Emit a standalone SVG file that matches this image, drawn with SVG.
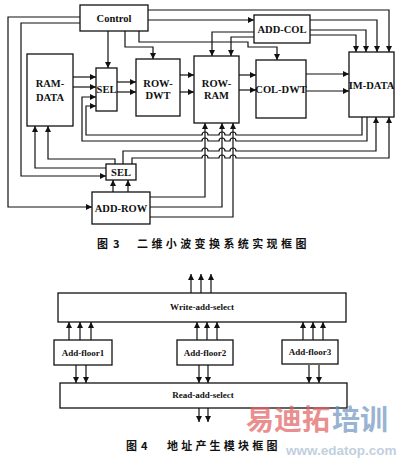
<svg xmlns="http://www.w3.org/2000/svg" width="400" height="458" viewBox="0 0 400 458">
<defs>
<marker id="ah" viewBox="0 0 10 10" refX="10" refY="5" markerWidth="6" markerHeight="6" markerUnits="userSpaceOnUse" orient="auto">
<path d="M0,0 L10,5 L0,10 z" fill="#111"/>
</marker>
<style>
.box{fill:#fff;stroke:#111;stroke-width:1.3}
.ln{fill:none;stroke:#111;stroke-width:1.2}
.ar{fill:none;stroke:#111;stroke-width:1.2;marker-end:url(#ah)}
.lb{font-family:"Liberation Serif","Times New Roman",serif;font-weight:bold;font-size:10.5px;fill:#111;text-anchor:middle}
.lb2{font-family:"Liberation Serif","Times New Roman",serif;font-weight:bold;font-size:9px;fill:#111;text-anchor:middle}
.cap{font-family:"Noto Sans CJK SC","Liberation Serif",sans-serif;font-weight:bold;font-size:11px;fill:#111}
</style>
</defs>
<rect width="400" height="458" fill="#fff"/>

<g id="connectors">
<path class="ar" d="M80,17 H8 V207 H92"/>
<path class="ar" d="M80,23 H21 V176 H106"/>
<path class="ar" d="M108,31 V68"/>
<path class="ar" d="M125,31 V47 H153 V59"/>
<path class="ar" d="M139,31 V42 H248 V47 H277 V60"/>
<path class="ar" d="M148,10 H389 V52"/>
<path class="ar" d="M148,20 H254"/>
<path class="ar" d="M254,32 H212 V56"/>
<path class="ar" d="M254,37 H231 V56"/>
<path class="ar" d="M310,20 H377 V52"/>
<path class="ar" d="M310,30 H366 V52"/>
<path class="ar" d="M310,35 H356 V52"/>
<path class="ar" d="M73,77 H96"/>
<path class="ar" d="M73,87 H96"/>
<path class="ar" d="M117,82 H136"/>
<path class="ar" d="M117,92 H136"/>
<path class="ar" d="M180,75 H194"/>
<path class="ar" d="M180,92 H194"/>
<path class="ar" d="M239,75 H256"/>
<path class="ar" d="M239,90 H256"/>
<path class="ar" d="M306,74 H349"/>
<path class="ar" d="M306,91 H349"/>
<path class="ar" d="M362,117 V135 H236 a3,3 0 0 0 -6,0 H225 a3,3 0 0 0 -6,0 H208 a3,3 0 0 0 -6,0 H86 V106 H96"/>
<path class="ar" d="M367,117 V141 H236 a3,3 0 0 0 -6,0 H225 a3,3 0 0 0 -6,0 H208 a3,3 0 0 0 -6,0 H82 V97 H96"/>
<path class="ar" d="M123,164 V151 H202 a3,3 0 0 1 6,0 H219 a3,3 0 0 1 6,0 H230 a3,3 0 0 1 6,0 H376 V117"/>
<path class="ar" d="M132,164 V158 H202 a3,3 0 0 1 6,0 H219 a3,3 0 0 1 6,0 H230 a3,3 0 0 1 6,0 H389 V117"/>
<path class="ar" d="M150,197 H205 V123"/>
<path class="ar" d="M150,207 H222 V123"/>
<path class="ar" d="M150,217 H233 V123"/>
<path class="ar" d="M113,192 V180"/>
<path class="ar" d="M128,192 V180"/>
<path class="ar" d="M106,168 H35 V126"/>
<path class="ar" d="M115,164 V159 H48 V126"/>

<path class="ar" d="M191,293 V274"/>
<path class="ar" d="M201,293 V274"/>
<path class="ar" d="M211,293 V274"/>
<path class="ar" d="M69,340 V322"/>
<path class="ar" d="M80,340 V322"/>
<path class="ar" d="M91,340 V322"/>
<path class="ar" d="M197,340 V322"/>
<path class="ar" d="M207,340 V322"/>
<path class="ar" d="M217,340 V322"/>
<path class="ar" d="M303,340 V322"/>
<path class="ar" d="M313,340 V322"/>
<path class="ar" d="M323,340 V322"/>
<path class="ar" d="M76,365 V383"/>
<path class="ar" d="M86,365 V383"/>
<path class="ar" d="M199,365 V383"/>
<path class="ar" d="M208,365 V383"/>
<path class="ar" d="M309,365 V383"/>
<path class="ar" d="M319,365 V383"/>
<path class="ar" d="M199,408 V422"/>
<path class="ar" d="M208,408 V422"/>
</g>

<g id="control"><rect class="box" x="80" y="5" width="68" height="26"/><text class="lb" x="114" y="22">Control</text></g>
<g id="ram-data"><rect class="box" x="27" y="54" width="46" height="72"/><text class="lb" x="50" y="87">RAM-</text><text class="lb" x="50" y="101">DATA</text></g>
<g id="sel-top"><rect class="box" x="96" y="68" width="21" height="43"/><text class="lb" x="106.5" y="93">SEL</text></g>
<g id="row-dwt"><rect class="box" x="136" y="59" width="44" height="57"/><text class="lb" x="158" y="87">ROW-</text><text class="lb" x="158" y="99">DWT</text></g>
<g id="row-ram"><rect class="box" x="194" y="56" width="45" height="67"/><text class="lb" x="216.5" y="87">ROW-</text><text class="lb" x="216.5" y="99">RAM</text></g>
<g id="col-dwt"><rect class="box" x="256" y="60" width="50" height="58"/><text class="lb" x="281" y="93">COL-DWT</text></g>
<g id="add-col"><rect class="box" x="254" y="15" width="56" height="28"/><text class="lb" x="282" y="33">ADD-COL</text></g>
<g id="im-data"><rect class="box" x="349" y="52" width="45" height="65"/><text class="lb" x="371.5" y="89">IM-DATA</text></g>
<g id="sel-bottom"><rect class="box" x="106" y="164" width="30" height="16"/><text class="lb" x="121" y="176">SEL</text></g>
<g id="add-row"><rect class="box" x="92" y="192" width="58" height="32"/><text class="lb" x="121" y="212">ADD-ROW</text></g>

<text class="cap" x="97" y="248">图</text>
<text class="cap" x="113" y="248">3</text>
<text class="cap" x="137" y="248" letter-spacing="3.4">二维小波变换系统实现框图</text>

<g id="write-add-select"><rect class="box" x="58" y="293" width="288" height="29"/><text class="lb2" x="202" y="310">Write-add-select</text></g>
<g id="add-floor1"><rect class="box" x="54" y="340" width="58" height="25"/><text class="lb2" x="83" y="356">Add-floor1</text></g>
<g id="add-floor2"><rect class="box" x="177" y="340" width="56" height="25"/><text class="lb2" x="205" y="356">Add-floor2</text></g>
<g id="add-floor3"><rect class="box" x="282" y="340" width="56" height="24"/><text class="lb2" x="310" y="355">Add-floor3</text></g>
<g id="read-add-select"><rect class="box" x="60" y="383" width="287" height="25"/><text class="lb2" x="203" y="398">Read-add-select</text></g>

<text class="cap" x="126" y="450">图</text>
<text class="cap" x="141" y="450">4</text>
<text class="cap" x="167" y="450" letter-spacing="3.2">地址产生模块框图</text>

<g id="watermark" opacity="0.7">
<text x="246" y="430" font-family="'Noto Sans CJK SC',sans-serif" font-weight="bold" font-size="28" fill="#e06060">易迪拓</text>
<text x="332" y="430" font-family="'Noto Sans CJK SC',sans-serif" font-weight="bold" font-size="28" fill="#6f94bf">培训</text>
<text x="286" y="455" font-family="'Liberation Sans',sans-serif" font-weight="bold" font-size="13.5" fill="#a7bcd2">www.edatop.com</text>
</g>
</svg>
